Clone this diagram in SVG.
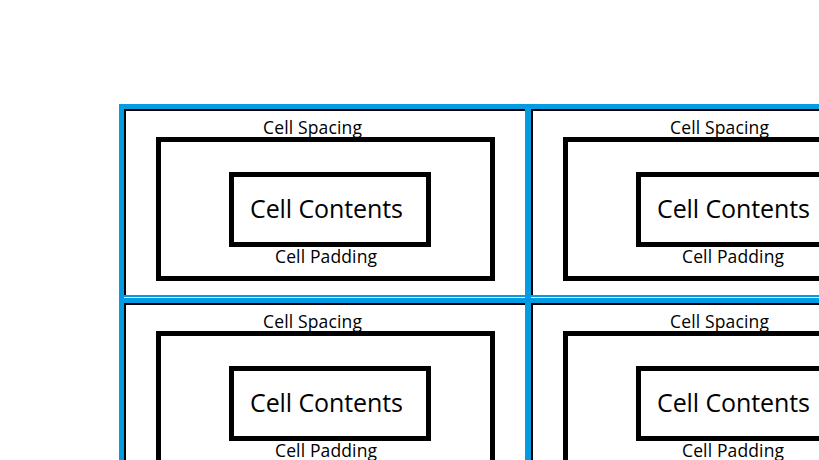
<svg xmlns="http://www.w3.org/2000/svg" width="819" height="460" viewBox="0 0 819 460">
<style>
.blue{fill:#039BE1}
.blk{fill:#000}
.box{fill:none;stroke:#000;stroke-width:5}
.lbl{font-family:"Open Sans","Noto Sans",sans-serif;font-size:17.5px;fill:#000;text-anchor:middle}
.big{font-family:"Open Sans","Noto Sans",sans-serif;font-size:25px;fill:#000;text-anchor:middle}
</style>
<defs>
<g id="cellTpl">
<rect class="box" x="158.5" y="139.5" width="334" height="139"/>
<rect class="box" x="231.5" y="174.5" width="197" height="70"/>
<text class="lbl" x="312.5" y="134" textLength="99">Cell Spacing</text>
<text class="big" x="326.5" y="217.5" textLength="153">Cell Contents</text>
<text class="lbl" x="326" y="263" textLength="102">Cell Padding</text>
</g>
</defs>
<rect width="819" height="460" fill="#fff"/>
<g id="grid">
<rect class="blk" x="124" y="109" width="695" height="2"/>
<rect class="blk" x="124" y="109" width="2" height="186"/>
<rect class="blk" x="531" y="109" width="2" height="186"/>
<rect class="blk" x="124" y="303" width="695" height="2"/>
<rect class="blk" x="124" y="303" width="2" height="157"/>
<rect class="blk" x="531" y="303" width="2" height="157"/>
<rect class="blue" x="119" y="104" width="700" height="5"/>
<rect class="blue" x="119" y="295" width="700" height="2"/>
<rect class="blue" x="119" y="298" width="700" height="5"/>
<rect class="blue" x="119" y="104" width="5" height="356"/>
<rect class="blue" x="525" y="104" width="6" height="356"/>
</g>
<g id="cell-1-1"><use href="#cellTpl"/></g>
<g id="cell-1-2"><use href="#cellTpl" transform="translate(407,0)"/></g>
<g id="cell-2-1"><use href="#cellTpl" transform="translate(0,194)"/></g>
<g id="cell-2-2"><use href="#cellTpl" transform="translate(407,194)"/></g>
</svg>
